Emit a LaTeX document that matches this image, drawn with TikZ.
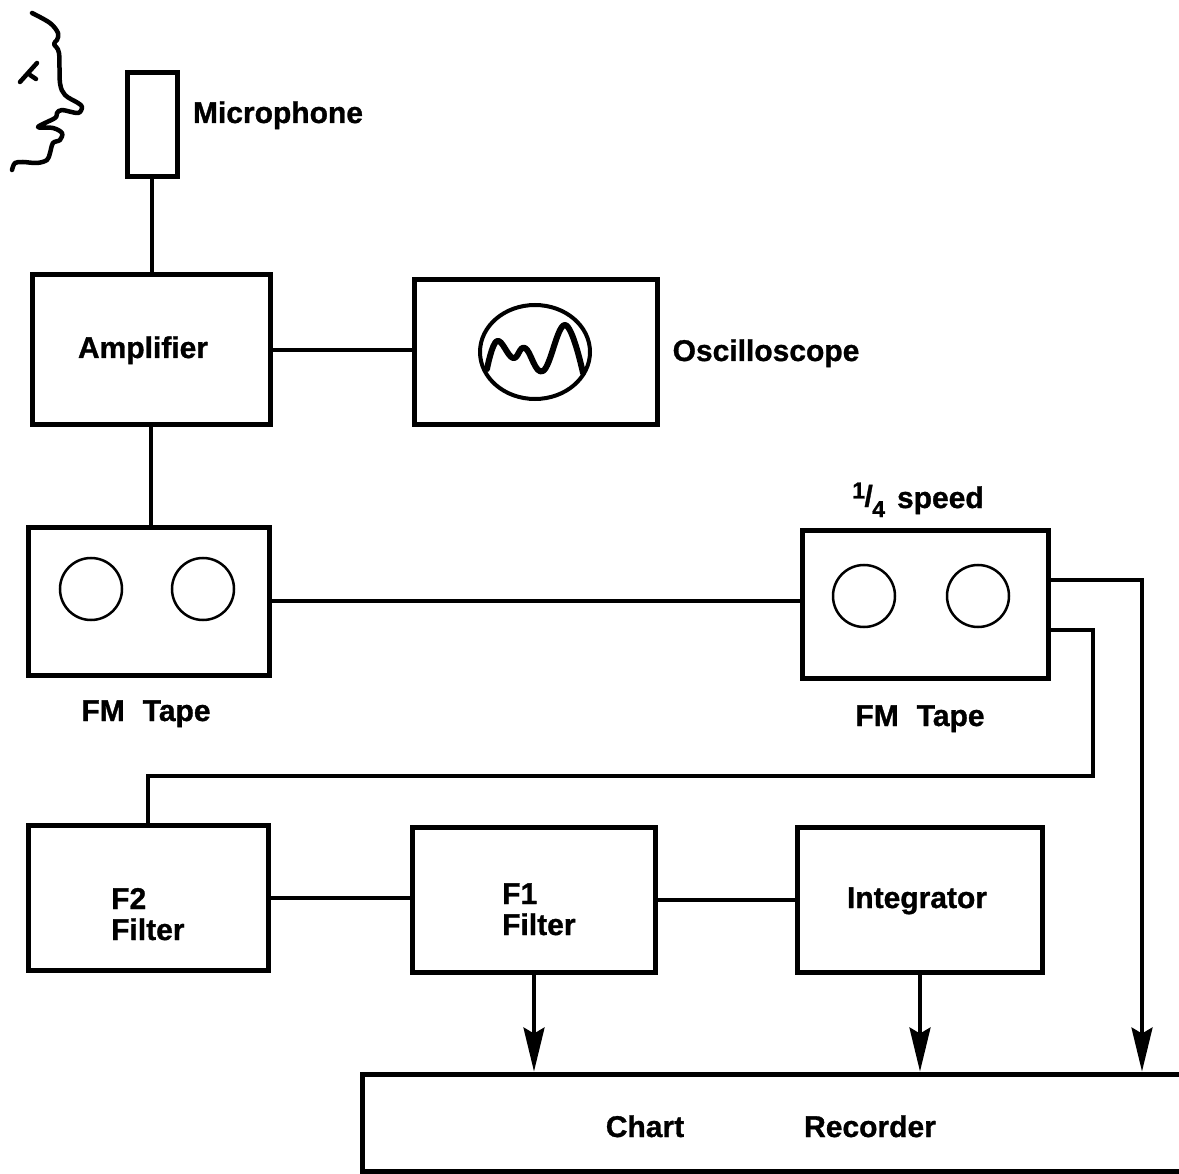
\documentclass[tikz,border=0pt]{standalone}
\usepackage{fontspec}
\setmainfont{Liberation Sans}[BoldFeatures={FakeBold=1}]
\usetikzlibrary{arrows.meta,shapes.geometric}

\tikzset{
  unit/.style={draw, line width=5pt, inner sep=0pt},
  wire/.style={line width=3.5pt},
  feed/.style={line width=3.5pt, -{Stealth[length=44pt, width=21pt, inset=6pt]}},
  lbl/.style={font=\fontsize{30}{31}\selectfont\bfseries, inner sep=0pt, align=left},
  reel/.style={draw, line width=2.5pt, circle, minimum size=62pt, inner sep=0pt},
  pen/.style={line width=4.5pt, line cap=round, line join=round},
}

\begin{document}
\begin{tikzpicture}[x=1pt, y=-1pt]
\useasboundingbox (0,0) rectangle (1179,1174);

% speaker's profile
\draw[pen] plot[smooth, tension=0.55] coordinates {
  (32,13) (50,23) (58,33) (57,40) (54,44) (59,53) (60,83) (65,95)
  (78,103) (82,107) (78,113) (62,110) (57,113) (55,118) (38,127)
  (53,128) (62,133) (60,140) (53,143) (50,153) (47,160) (37,163)
  (23,162) (15,163) (12,170)};
\draw[pen] (20,82) -- (37,63);
\draw[pen] (30,75) -- (36,79);

% equipment blocks
\node[unit, minimum width=50pt,  minimum height=104pt] (mic)   at (152,125) {};
\node[unit, minimum width=238pt, minimum height=150pt] (amp)   at (151,350) {};
\node[unit, minimum width=243pt, minimum height=145pt] (osc)   at (536,352) {};
\node[unit, minimum width=241pt, minimum height=148pt] (tapeA) at (149,601) {};
\node[unit, minimum width=246pt, minimum height=148pt] (tapeB) at (925,604) {};
\node[unit, minimum width=240pt, minimum height=145pt] (ftwo)  at (148,898) {};
\node[unit, minimum width=243pt, minimum height=145pt] (fone)  at (534,900) {};
\node[unit, minimum width=245pt, minimum height=145pt] (integ) at (920,900) {};
\node[unit, minimum width=838pt, minimum height=97pt]  (chart) at (781,1122.5) {};

% oscilloscope screen and trace
\node[draw, ellipse, line width=4pt, minimum width=110pt, minimum height=94pt, inner sep=0pt] (screen) at (535,352) {};
\draw[line width=6pt, line join=round, line cap=round] plot[smooth, tension=0.7] coordinates {
  (487,369) (497,341) (513,358) (525,348) (543,371) (565,325) (583,373)};

% tape reels
\node[reel] (reelA1) at (91,589) {};
\node[reel] (reelA2) at (203,589) {};
\node[reel] (reelB1) at (864,596) {};
\node[reel] (reelB2) at (978,596) {};

% labels
\node[lbl, anchor=base] (micT)   at (278,123)  {Microphone};
\node[lbl, anchor=base] (ampT)   at (143,358)  {Amplifier};
\node[lbl, anchor=base] (oscT)   at (766,361)  {Oscilloscope};
\node[lbl, anchor=base] (tapeAT) at (146,721)  {FM\hspace{0.6em}Tape};
\node[lbl, anchor=base] (tapeBT) at (920,726)  {FM\hspace{0.6em}Tape};
\node[lbl, anchor=base] (speedT) at (918,508)
  {\raisebox{0.32em}{\fontsize{23}{23}\selectfont 1}\kern-0.02em\raisebox{0.05em}{/}\kern-0.02em\raisebox{-0.3em}{\fontsize{23}{23}\selectfont 4}\hspace{0.4em}speed};
\node[lbl, anchor=base west] (ftwoT) at (111,940) {F2\\Filter};
\node[lbl, anchor=base west] (foneT) at (502,935) {F1\\Filter};
\node[lbl, anchor=base] (integT) at (917,908)  {Integrator};
\node[lbl, anchor=base] (chartT) at (645,1137) {Chart};
\node[lbl, anchor=base] (recT)   at (870,1137) {Recorder};

% signal path
\coordinate (hiTurn) at (1142,580);
\coordinate (loTurn) at (1093,630);
\coordinate (loDrop) at (1093,776);

\draw[wire] (mic.south) -- (mic.south |- amp.north);
\draw[wire] (amp.east) -- (osc.west |- amp.east);
\draw[wire] (amp.south) -- (amp.south |- tapeA.north);
\draw[wire] (tapeA.east) -- (tapeB.west |- tapeA.east);
\draw[feed] (tapeB.east |- hiTurn) -- (hiTurn) -- (hiTurn |- chart.north);
\draw[wire] (tapeB.east |- loTurn) -- (loTurn) -- (loDrop) -| (ftwo.north);
\draw[wire] (ftwo.east) -- (fone.west |- ftwo.east);
\draw[wire] (fone.east) -- (integ.west |- fone.east);
\draw[feed] (fone.south) -- (fone.south |- chart.north);
\draw[feed] (integ.south) -- (integ.south |- chart.north);
\end{tikzpicture}
\end{document}
